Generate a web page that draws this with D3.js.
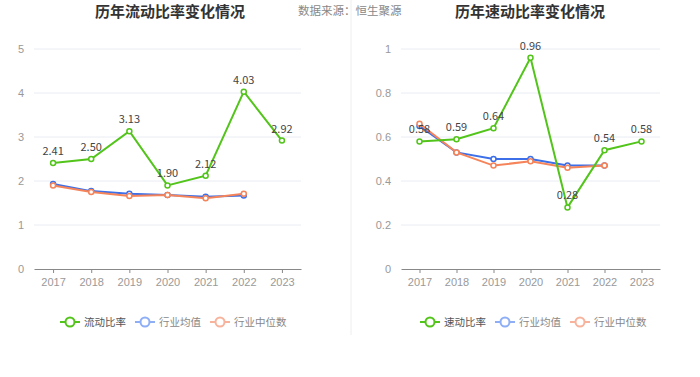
<!DOCTYPE html>
<html>
<head>
<meta charset="utf-8">
<script src="https://cdn.jsdelivr.net/npm/d3@7"></script>
<style>
  body { margin: 0; background: #fff; }
  svg { font-family: "Noto Sans CJK SC", "Noto Sans", sans-serif; }
</style>
</head>
<body>
<script>
const years = ["2017", "2018", "2019", "2020", "2021", "2022", "2023"];

const currentRatio = [2.41, 2.50, 3.13, 1.90, 2.12, 4.03, 2.92];
const currentMean = [1.93, 1.77, 1.71, 1.68, 1.64, 1.67];
const currentMedian = [1.90, 1.75, 1.66, 1.68, 1.61, 1.71];

const quickRatio = [0.58, 0.59, 0.64, 0.96, 0.28, 0.54, 0.58];
const quickMean = [0.65, 0.53, 0.50, 0.50, 0.47, 0.47];
const quickMedian = [0.66, 0.53, 0.47, 0.49, 0.46, 0.47];

const leftTicks = [0, 1, 2, 3, 4, 5];
const rightTicks = [0, 0.2, 0.4, 0.6, 0.8, 1];

const colors = {main: "#52c41a", mean: "#3c6fe8", median: "#f5845a"};
const legendColors = {main: "#52c41a", mean: "#8eaef5", median: "#f8b39c"};

const width = 700, height = 377;

const svg = d3.select("body").append("svg")
  .attr("width", width)
  .attr("height", height);

// divider
svg.append("line")
  .attr("x1", 351).attr("x2", 351)
  .attr("y1", 0).attr("y2", 335)
  .attr("stroke", "#eeeeee");

svg.append("text")
  .attr("x", 298).attr("y", 15)
  .attr("font-size", 11.5)
  .attr("fill", "#888")
  .text("数据来源：恒生聚源");

function drawChart(opt) {
  const x = d3.scalePoint()
    .domain(years)
    .range([opt.x0, opt.x1])
    .padding(0.5);

  const y = d3.scaleLinear()
    .domain([0, d3.max(opt.ticks)])
    .range([269, 49]);

  svg.append("text")
    .attr("x", opt.titleX).attr("y", 17)
    .attr("text-anchor", "middle")
    .attr("font-size", 15)
    .attr("font-weight", "bold")
    .attr("fill", "#333")
    .text(opt.title);

  // grid
  svg.append("g")
    .selectAll("line")
    .data(opt.ticks.filter(d => d > 0))
    .join("line")
    .attr("x1", opt.x0).attr("x2", opt.x1)
    .attr("y1", d => y(d)).attr("y2", d => y(d))
    .attr("stroke", "#e8ecf4");

  const yAxis = d3.axisLeft(y)
    .tickValues(opt.ticks)
    .tickSize(0)
    .tickPadding(10)
    .tickFormat(d => d3.format("~g")(d));

  svg.append("g")
    .attr("transform", "translate(" + opt.x0 + ",0)")
    .call(yAxis)
    .call(g => g.select(".domain").remove())
    .call(g => g.selectAll("text").attr("fill", "#999").attr("font-size", 11).attr("font-family", null));

  const xAxis = d3.axisBottom(x)
    .tickSize(4)
    .tickSizeOuter(0)
    .tickPadding(5);

  svg.append("g")
    .attr("transform", "translate(0,269)")
    .call(xAxis)
    .call(g => g.select(".domain").attr("stroke", "#888"))
    .call(g => g.selectAll(".tick line").attr("stroke", "#888"))
    .call(g => g.selectAll("text").attr("fill", "#999").attr("font-size", 11).attr("font-family", null));

  const line = d3.line()
    .x((d, i) => x(years[i]))
    .y(d => y(d));

  const series = [
    {values: opt.mean, color: colors.mean},
    {values: opt.median, color: colors.median},
    {values: opt.main, color: colors.main}
  ];

  series.forEach(s => {
    svg.append("path")
      .datum(s.values)
      .attr("fill", "none")
      .attr("stroke", s.color)
      .attr("stroke-width", 2)
      .attr("d", line);

    svg.append("g")
      .selectAll("circle")
      .data(s.values)
      .join("circle")
      .attr("cx", (d, i) => x(years[i]))
      .attr("cy", d => y(d))
      .attr("r", 2.5)
      .attr("fill", "#fff")
      .attr("stroke", s.color)
      .attr("stroke-width", 1.5);
  });

  svg.append("g")
    .selectAll("text")
    .data(opt.main)
    .join("text")
    .attr("x", (d, i) => x(years[i]))
    .attr("y", d => y(d) - 8)
    .attr("text-anchor", "middle")
    .attr("font-size", 11)
    .attr("fill", "#444")
    .text(d => d.toFixed(2));

  // legend
  const items = [
    {name: opt.name, color: legendColors.main, text: "#555"},
    {name: "行业均值", color: legendColors.mean, text: "#888"},
    {name: "行业中位数", color: legendColors.median, text: "#888"}
  ];
  let lx = opt.legendX;
  items.forEach(it => {
    const g = svg.append("g").attr("transform", "translate(" + lx + ",322)");
    g.append("line")
      .attr("x1", 0).attr("x2", 20)
      .attr("stroke", it.color).attr("stroke-width", 2);
    g.append("circle")
      .attr("cx", 10).attr("r", 4.5)
      .attr("fill", "#fff")
      .attr("stroke", it.color).attr("stroke-width", 2);
    const t = g.append("text")
      .attr("x", 24).attr("dy", "0.35em")
      .attr("font-size", 10.5)
      .attr("fill", it.text)
      .text(it.name);
    lx += 24 + t.node().getComputedTextLength() + 9;
  });
}

drawChart({
  title: "历年流动比率变化情况", titleX: 170, name: "流动比率",
  x0: 34, x1: 301, ticks: leftTicks,
  main: currentRatio, mean: currentMean, median: currentMedian,
  legendX: 60
});

drawChart({
  title: "历年速动比率变化情况", titleX: 530, name: "速动比率",
  x0: 401, x1: 660, ticks: rightTicks,
  main: quickRatio, mean: quickMean, median: quickMedian,
  legendX: 420
});
</script>
</body>
</html>
